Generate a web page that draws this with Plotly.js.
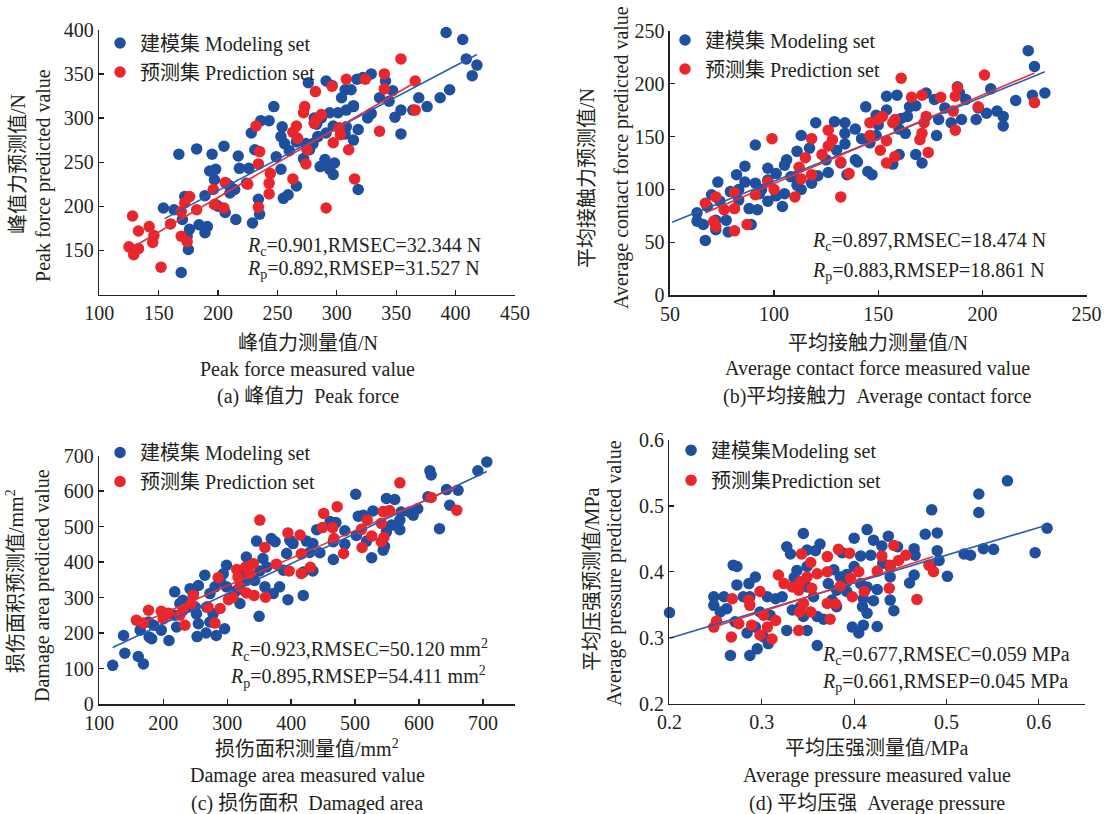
<!DOCTYPE html>
<html><head><meta charset="utf-8">
<script src="https://cdn.plot.ly/plotly-3.0.1.min.js"></script>
<style>html,body{margin:0;padding:0;background:#fff}#chart{width:1119px;height:814px}</style>
</head><body><div id="chart"></div>
<script>
// ---------- (a) Peak force ----------
var aModelX = [392,406,409,418,414,395,387,369,376,364,354,349,354,347,341,329,317,322,291,276,296,307,312,344,336,329,326,314,308,301,294,287,283,314,308,318,297,291,284,314,280,272,286,294,298,297,318,290,260,247,243,228,236,254,256,253,249,253,266,255,235,234,229,224,218,217,226,231,205,198,193,197,210,207,214,210,198,206,215,191,184,189,195,167,182,176,170,172,154,163,174,175,169,189,200,259,274,266,307,304,281,277];
var aModelY = [397,389,367,360,348,332,323,323,313,309,309,301,282,331,342,350,344,346,342,340,337,332,332,319,323,305,300,313,309,306,306,300,293,314,290,287,291,283,279,275,271,254,245,242,249,236,219,253,263,313,297,283,297,290,271,279,256,242,223,209,191,208,181,226,243,257,243,264,268,242,240,230,223,226,219,215,202,193,185,177,179,212,259,259,265,174,185,211,198,196,166,151,125,170,200,213,271,273,282,323,300,264,287];
var aPredX = [354,340,324,308,296,282,366,340,366,336,273,272,287,283,281,266,263,267,302,303,297,310,275,274,263,315,291,232,235,234,244,243,243,225,234,206,205,196,197,176,172,182,169,160,169,174,142,133,146,145,128,125,133,129,152];
var aPredY = [367,350,344,344,336,330,342,333,309,285,313,306,304,299,294,291,284,277,289,281,272,264,264,248,231,231,198,291,262,248,237,226,214,225,199,227,198,219,202,211,204,196,194,180,166,160,177,172,167,159,189,154,152,145,131];
var aFitModelX = [155,418], aFitModelY = [186,372];
var aFitPredX = [130,368], aFitPredY = [155,342];

// ---------- (b) Average contact force ----------
var bModelX = [222,225,224,230,216,204,207,210,210,202,197,198,188,189,192,190,185,178,179,173,177,168,165,161,160,163,160,168,171,154,159,154,149,150,144,142,149,157,145,147,134,129,139,134,139,140,135,130,125,126,120,117,113,111,106,105,110,113,118,121,111,101,97,97,101,97,104,105,94,91,91,86,82,86,83,79,88,92,89,73,70,74,68,77,72,78,67,63,63,66,72,83,93,108,134,164,182,146,132];
var bModelY = [231,216,189,191,184,195,174,169,160,172,166,177,197,191,185,166,163,151,166,191,185,179,178,167,157,153,133,133,125,188,189,175,170,161,178,148,151,124,117,114,153,164,157,143,128,126,114,137,128,116,163,139,151,136,128,123,112,100,106,113,104,115,120,109,94,89,84,96,100,106,142,122,114,107,100,98,82,81,67,107,95,89,84,71,62,60,52,78,70,67,71,90,96,112,163,169,177,144,125];
var bPredX = [225,201,198,187,188,187,186,180,171,166,161,173,172,171,170,174,158,157,152,150,154,151,158,154,146,146,126,128,126,123,118,115,132,136,132,112,113,110,118,99,97,100,91,81,81,87,81,72,76,67,71,72];
var bPredY = [182,208,178,156,196,188,174,187,189,187,205,169,163,153,147,135,166,163,169,166,146,137,131,125,163,151,156,147,141,133,148,130,126,115,93,121,110,93,114,148,107,100,95,97,82,67,61,93,81,87,70,65];
var bFitModelX = [51,230], bFitModelY = [69,211];
var bFitPredX = [67,225], bFitPredY = [78,210];

// ---------- (c) Damage area ----------
var cModelX = [706,692,617,619,643,661,614,648,632,501,549,562,528,513,505,572,585,598,591,570,557,570,549,544,546,526,518,502,484,484,466,466,461,470,440,434,445,424,429,419,434,398,393,403,419,388,382,372,395,369,375,346,356,362,351,343,359,330,325,328,320,315,309,320,330,350,299,294,289,299,281,273,268,278,273,283,296,265,255,247,242,231,239,250,252,255,253,267,218,226,218,221,210,197,185,182,178,164,177,209,138,140,161,169,121];
var cModelY = [682,657,657,645,604,602,584,560,494,591,579,576,544,532,529,541,541,550,532,518,504,491,485,433,444,412,459,475,488,450,457,407,514,511,491,452,426,459,427,372,375,461,424,452,306,377,330,311,294,466,457,459,410,386,375,348,330,414,377,367,348,320,301,283,348,247,391,367,348,330,330,311,273,254,231,193,212,363,334,311,325,292,273,273,254,226,190,200,316,283,250,217,254,208,222,184,189,208,231,179,193,143,134,113,109];
var cPredX = [570,659,619,472,451,449,465,467,482,519,510,526,511,544,554,541,545,541,351,414,395,359,416,430,416,397,377,341,329,335,315,317,320,330,342,360,309,302,286,289,270,281,247,244,231,226,234,208,197,200,177,158,169];
var cPredY = [623,546,582,556,537,497,497,466,424,518,492,473,441,542,545,509,469,457,518,476,482,441,423,385,368,375,394,395,386,367,379,358,330,313,306,301,301,294,356,269,273,228,306,283,264,250,222,256,261,240,264,236,228];
var cFitModelX = [121,706], cFitModelY = [159,655];
var cFitPredX = [161,658], cFitPredY = [225,611];

// ---------- (d) Average pressure ----------
var dModelX = [0.566,0.535,0.535,0.484,0.490,0.477,0.609,0.596,0.540,0.551,0.519,0.526,0.501,0.490,0.492,0.483,0.465,0.466,0.465,0.460,0.414,0.400,0.421,0.430,0.437,0.447,0.407,0.418,0.431,0.439,0.439,0.400,0.392,0.392,0.407,0.414,0.425,0.410,0.421,0.409,0.414,0.439,0.443,0.425,0.410,0.398,0.405,0.385,0.378,0.387,0.372,0.376,0.381,0.367,0.363,0.358,0.345,0.331,0.338,0.335,0.349,0.349,0.356,0.342,0.345,0.349,0.360,0.327,0.333,0.322,0.315,0.306,0.309,0.298,0.302,0.307,0.295,0.287,0.266,0.293,0.286,0.280,0.287,0.269,0.273,0.273,0.262,0.255,0.248,0.248,0.259,0.284,0.293,0.271,0.200,0.349,0.327,0.392,0.381,0.360];
var dModelY = [0.538,0.518,0.490,0.494,0.459,0.457,0.466,0.429,0.435,0.434,0.427,0.425,0.393,0.432,0.417,0.409,0.435,0.425,0.395,0.383,0.464,0.451,0.448,0.439,0.454,0.438,0.424,0.425,0.413,0.407,0.392,0.408,0.396,0.385,0.382,0.377,0.373,0.359,0.356,0.347,0.337,0.357,0.341,0.317,0.319,0.316,0.307,0.392,0.403,0.429,0.382,0.357,0.347,0.328,0.442,0.432,0.458,0.427,0.402,0.391,0.408,0.377,0.362,0.347,0.332,0.311,0.288,0.311,0.342,0.362,0.359,0.362,0.334,0.339,0.301,0.291,0.283,0.273,0.273,0.392,0.382,0.362,0.362,0.410,0.408,0.380,0.344,0.339,0.349,0.362,0.362,0.307,0.316,0.324,0.338,0.433,0.438,0.370,0.372,0.332];
var dPredX = [0.443,0.430,0.439,0.448,0.456,0.481,0.486,0.468,0.438,0.425,0.405,0.396,0.395,0.383,0.371,0.371,0.360,0.385,0.398,0.411,0.371,0.380,0.374,0.353,0.343,0.349,0.342,0.354,0.333,0.340,0.345,0.353,0.341,0.340,0.318,0.324,0.298,0.286,0.287,0.302,0.315,0.306,0.289,0.298,0.311,0.275,0.268,0.267,0.251,0.248];
var dPredY = [0.440,0.424,0.410,0.417,0.425,0.410,0.400,0.358,0.375,0.401,0.400,0.390,0.428,0.434,0.423,0.400,0.397,0.378,0.362,0.370,0.352,0.351,0.328,0.414,0.427,0.392,0.385,0.375,0.377,0.372,0.352,0.339,0.339,0.311,0.395,0.382,0.370,0.357,0.349,0.334,0.326,0.316,0.319,0.304,0.298,0.321,0.359,0.301,0.325,0.316];
var dFitModelX = [0.200,0.609], dFitModelY = [0.299,0.471];
var dFitPredX = [0.248,0.486], dFitPredY = [0.316,0.423];

// tick values
var aXTicks = [100,150,200,250,300,350,400,450], aYTicks = [150,200,250,300,350,400];
var bXTicks = [50,100,150,200,250], bYTicks = [0,50,100,150,200,250];
var cXTicks = [100,200,300,400,500,600,700], cYTicks = [0,100,200,300,400,500,600,700];
var dXTicks = [0.2,0.3,0.4,0.5,0.6], dYTicks = [0.2,0.3,0.4,0.5,0.6];

var modelName = '建模集 Modeling set', predName = '预测集 Prediction set';
var dModelName = '建模集Modeling set', dPredName = '预测集Prediction set';

var BLUE = '#1f4f9f', RED = '#e8262b', LBLUE = '#2b5db5', LRED = '#e5313a', INK = '#231f20';
var FONT = 'Liberation Serif, "Noto Sans CJK SC", serif';

function pts(x, y, color, name, xa, ya, leg, grp) {
  return {type:'scatter', mode:'markers', x:x, y:y, xaxis:xa, yaxis:ya, name:name, cliponaxis:false,
    legend:leg, legendgroup:grp, marker:{color:color, size:11.5, line:{width:0}}, showlegend:true, hoverinfo:'skip'};
}
function fit(x, y, color, xa, ya) {
  return {type:'scatter', mode:'lines', x:x, y:y, xaxis:xa, yaxis:ya, showlegend:false,
    line:{color:color, width:1.6}, hoverinfo:'skip'};
}
var data = [
  pts(aModelX,aModelY,BLUE,modelName,'x','y','legend','m'), pts(aPredX,aPredY,RED,predName,'x','y','legend','p'),
  fit(aFitModelX,aFitModelY,LBLUE,'x','y'), fit(aFitPredX,aFitPredY,LRED,'x','y'),
  pts(bModelX,bModelY,BLUE,modelName,'x2','y2','legend2','m'), pts(bPredX,bPredY,RED,predName,'x2','y2','legend2','p'),
  fit(bFitModelX,bFitModelY,LBLUE,'x2','y2'), fit(bFitPredX,bFitPredY,LRED,'x2','y2'),
  pts(cModelX,cModelY,BLUE,modelName,'x3','y3','legend3','m'), pts(cPredX,cPredY,RED,predName,'x3','y3','legend3','p'),
  fit(cFitModelX,cFitModelY,LBLUE,'x3','y3'), fit(cFitPredX,cFitPredY,LRED,'x3','y3'),
  pts(dModelX,dModelY,BLUE,dModelName,'x4','y4','legend4','m'), pts(dPredX,dPredY,RED,dPredName,'x4','y4','legend4','p'),
  fit(dFitModelX,dFitModelY,LBLUE,'x4','y4'), fit(dFitPredX,dFitPredY,LRED,'x4','y4')
];

function ax(domain, range, ticks, anchor) {
  return {domain:domain, range:range, anchor:anchor, tickmode:'array', tickvals:ticks,
    showline:true, linecolor:INK, linewidth:1.5, ticks:'inside', ticklen:5, tickwidth:1.3, tickcolor:INK,
    showgrid:false, zeroline:false, tickfont:{family:FONT, size:20, color:INK}, fixedrange:true};
}
function legend(x, y, gap) {
  return {x:x, y:y, xanchor:'left', yanchor:'top', bgcolor:'rgba(0,0,0,0)', borderwidth:0,
    font:{family:FONT, size:20, color:INK}, tracegroupgap:gap, itemwidth:30};
}
function txt(x, y, s, opt) {
  var o = {xref:'paper', yref:'paper', x:x, y:y, text:s, showarrow:false, xanchor:'center', yanchor:'middle',
    font:{family:FONT, size:20, color:INK}};
  for (var k in (opt||{})) o[k] = opt[k];
  return o;
}
var rot = {textangle:-90};
var L = {xanchor:'left'};
var annotations = [
  txt(0.2752,0.5786,'峰值力测量值/N'), txt(0.2752,0.5467,'Peak force measured value'), txt(0.2752,0.5135,'(a) 峰值力\u00a0\u00a0Peak force'),
  txt(0.7846,0.5786,'平均接触力测量值/N'), txt(0.7846,0.5467,'Average contact force measured value'), txt(0.7846,0.5135,'(b)平均接触力\u00a0\u00a0Average contact force'),
  txt(0.2744,0.0811,'损伤面积测量值/mm<sup>2</sup>'), txt(0.2744,0.0479,'Damage area measured value'), txt(0.2744,0.0135,'(c) 损伤面积\u00a0\u00a0Damaged area'),
  txt(0.7837,0.0811,'平均压强测量值/MPa'), txt(0.7837,0.0479,'Average pressure measured value'), txt(0.7837,0.0135,'(d) 平均压强\u00a0\u00a0Average pressure'),
  txt(0.0161,0.7985,'峰值力预测值/N',rot), txt(0.0384,0.785,'Peak force predicted value',rot),
  txt(0.5246,0.7813,'平均接触力预测值/N',rot), txt(0.5559,0.8059,'Average contact force predicted value',rot),
  txt(0.0134,0.2862,'损伤面积预测值/mm<sup>2</sup>',rot), txt(0.0375,0.2813,'Damage area predicted value',rot),
  txt(0.529,0.2887,'平均压强预测值/MPa',rot), txt(0.5496,0.2961,'Average pressure predicted value',rot),
  txt(0.2189,0.697,'<i>R</i><sub>c</sub>=0.901,RMSEC=32.344 N',L), txt(0.2189,0.6688,'<i>R</i><sub>p</sub>=0.892,RMSEP=31.527 N',L),
  txt(0.7239,0.703,'<i>R</i><sub>c</sub>=0.897,RMSEC=18.474 N',L), txt(0.7239,0.6663,'<i>R</i><sub>p</sub>=0.883,RMSEP=18.861 N',L),
  txt(0.2038,0.2019,'<i>R</i><sub>c</sub>=0.923,RMSEC=50.120 mm<sup>2</sup>',L), txt(0.2038,0.1688,'<i>R</i><sub>p</sub>=0.895,RMSEP=54.411 mm<sup>2</sup>',L),
  txt(0.7328,0.1946,'<i>R</i><sub>c</sub>=0.677,RMSEC=0.059 MPa',L), txt(0.7328,0.1614,'<i>R</i><sub>p</sub>=0.661,RMSEP=0.045 MPa',L)
];

var layout = {
  width:1119, height:814, margin:{l:0,r:0,t:0,b:0}, paper_bgcolor:'#fff', plot_bgcolor:'rgba(0,0,0,0)',
  font:{family:FONT, color:INK}, showlegend:true,
  xaxis: ax([0.0887,0.4602],[100,450],aXTicks,'y'),  yaxis: ax([0.6382,0.9634],[100,400],aYTicks,'x'),
  xaxis2:ax([0.5987,0.9710],[50,250],bXTicks,'y2'),  yaxis2:ax([0.6370,0.9625],[0,250],bYTicks,'x2'),
  xaxis3:ax([0.0887,0.4602],[100,750],cXTicks,'y3'), yaxis3:ax([0.1351,0.4404],[0,700],cYTicks,'x3'),
  xaxis4:ax([0.5983,0.9696],[0.2,0.65],dXTicks,'y4'),yaxis4:ax([0.1357,0.4595],[0.2,0.6],dYTicks,'x4'),
  legend: legend(0.0894,0.9711,0), legend2: legend(0.5943,0.9748,0),
  legend3: legend(0.0894,0.4681,0), legend4: legend(0.5997,0.4709,1),
  annotations: annotations
};
Plotly.newPlot('chart', data, layout, {staticPlot:true, displayModeBar:false});
</script></body></html>
